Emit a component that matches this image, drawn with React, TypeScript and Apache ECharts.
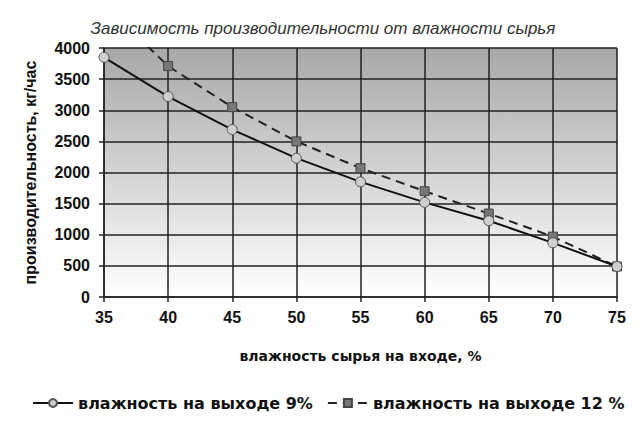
import React, { useEffect, useRef } from "react";
import * as echarts from "echarts";

const moistureIn = [35, 40, 45, 50, 55, 60, 65, 70, 75];
const out9 = [3850, 3220, 2690, 2230, 1850, 1520, 1225, 870, 490];
const out12 = [4700, 3710, 3050, 2500, 2070, 1700, 1340, 970, 490];
const yTicks = [0, 500, 1000, 1500, 2000, 2500, 3000, 3500, 4000];

const titleText = "Зависимость производительности от влажности сырья";
const xName = "влажность сырья на входе, %";
const yName = "производительность, кг/час";
const name9 = "влажность на выходе 9%";
const name12 = "влажность на выходе 12 %";

export default function App() {
  const ref = useRef<HTMLDivElement>(null);
  useEffect(() => {
    if (!ref.current) return;
    const chart = echarts.init(ref.current, null, { renderer: "svg" });
    const font = "Liberation Sans, Arial, sans-serif";
    const wide = "DejaVu Sans, Verdana, sans-serif";
    chart.setOption({
      animation: false,
      backgroundColor: "#ffffff",
      title: {
        text: titleText,
        left: 318,
        textAlign: "center",
        top: 15,
        textStyle: {
          fontFamily: font,
          fontStyle: "italic",
          fontWeight: "normal",
          fontSize: 17,
          color: "#333",
        },
      },
      grid: {
        left: 104,
        right: 25,
        top: 48,
        bottom: 126,
        show: true,
        borderWidth: 0,
        backgroundColor: new echarts.graphic.LinearGradient(0, 0, 0, 1, [
          { offset: 0, color: "#a8a8a8" },
          { offset: 1, color: "#ffffff" },
        ]),
      },
      legend: {
        left: 27,
        top: 390,
        itemWidth: 40,
        itemHeight: 10,
        itemGap: 14,
        textStyle: { fontFamily: wide, fontWeight: "bold", fontSize: 16, color: "#111" },
        data: [name9, name12],
      },
      xAxis: {
        type: "value",
        min: 35,
        max: 75,
        interval: 5,
        name: xName,
        nameLocation: "middle",
        nameGap: 52,
        nameTextStyle: { fontFamily: wide, fontWeight: "bold", fontSize: 14, color: "#111" },
        axisLine: { show: true, onZero: false, lineStyle: { color: "#222", width: 1.5 } },
        axisTick: { show: true, length: 5, lineStyle: { color: "#222", width: 1.5 } },
        axisLabel: {
          fontFamily: font,
          fontWeight: "bold",
          fontSize: 16,
          color: "#111",
          margin: 12,
          formatter: (v: number) => String(moistureIn.includes(v) ? v : ""),
        },
        splitLine: { show: true, lineStyle: { color: "#222", width: 1.5 } },
      },
      yAxis: {
        type: "value",
        min: yTicks[0],
        max: yTicks[yTicks.length - 1],
        interval: 500,
        name: yName,
        nameLocation: "middle",
        nameRotate: 90,
        nameGap: 66,
        nameTextStyle: { fontFamily: font, fontWeight: "bold", fontSize: 16, color: "#111" },
        axisLine: { show: true, lineStyle: { color: "#222", width: 1.5 } },
        axisTick: { show: true, length: 5, lineStyle: { color: "#222", width: 1.5 } },
        axisLabel: {
          fontFamily: font,
          fontWeight: "bold",
          fontSize: 16,
          color: "#111",
          margin: 14,
          formatter: (v: number) => String(v),
        },
        splitLine: { show: true, lineStyle: { color: "#222", width: 1.5 } },
      },
      series: [
        {
          name: name9,
          type: "line",
          data: moistureIn.map((x, i) => [x, out9[i]]),
          symbol: "circle",
          symbolSize: 10,
          itemStyle: { color: "#cfcfcf", borderColor: "#555", borderWidth: 1 },
          lineStyle: { color: "#111", width: 2 },
          z: 3,
        },
        {
          name: name12,
          type: "line",
          data: moistureIn.map((x, i) => [x, out12[i]]),
          symbol: "rect",
          symbolSize: 9,
          itemStyle: { color: "#777", borderColor: "#444", borderWidth: 1 },
          lineStyle: { color: "#222", width: 2, type: [9, 6] },
          clip: true,
          z: 2,
        },
      ],
    });
    return () => chart.dispose();
  }, []);
  return <div ref={ref} style={{ width: 642, height: 423, margin: -8 }} />;
}
